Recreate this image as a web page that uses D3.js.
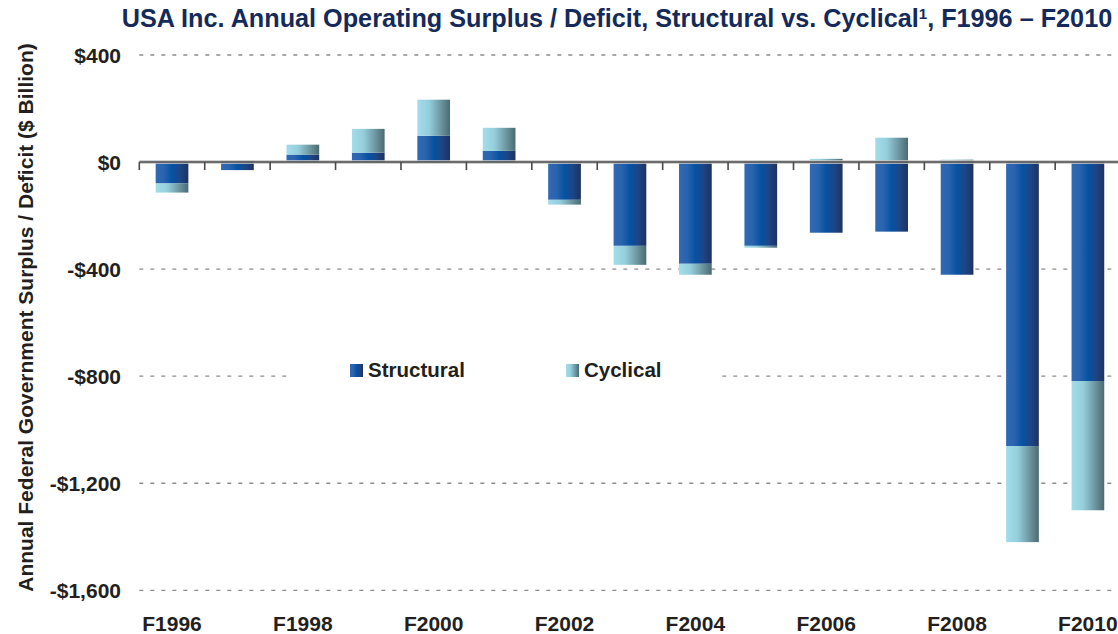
<!DOCTYPE html>
<html>
<head>
<meta charset="utf-8">
<script src="https://cdn.jsdelivr.net/npm/d3@7"></script>
<style>
  html, body { margin: 0; padding: 0; background: #fff; }
  svg { display: block; font-family: "Liberation Sans", Arial, sans-serif; }
</style>
</head>
<body>
<svg id="chart" width="1118" height="634"></svg>
<script>
// ---- data ----
const years = ["F1996","F1997","F1998","F1999","F2000","F2001","F2002","F2003","F2004","F2005","F2006","F2007","F2008","F2009","F2010"];
const structural = [-80, -30, 28, 35, 98, 42, -141, -313, -380, -313, -264, -260, -421, -1061, -818];
const cyclical   = [-34,   5, 37, 89, 135, 86, -18, -71, -41, -7, 12, 91, 9, -359, -483];
const seriesNames = ["Structural", "Cyclical"];
const yTicks = [400, 0, -400, -800, -1200, -1600];
const xLabels = ["F1996","F1998","F2000","F2002","F2004","F2006","F2008","F2010"];
const titleText = "USA Inc. Annual Operating Surplus / Deficit, Structural vs. Cyclical";
const titleTail = ", F1996 \u2013 F2010";
const yTitle = "Annual Federal Government Surplus / Deficit ($ Billion)";

// ---- layout ----
const svg = d3.select("#chart");
const plotLeft = 139.3, plotRight = 1120.6, yTop = 55, yBottom = 590.3;

const x = d3.scaleBand().domain(years).range([plotLeft, plotRight]).paddingInner(0.5).paddingOuter(0.25);
const y = d3.scaleLinear().domain([-1600, 400]).range([yBottom, yTop]);

const table = years.map((yr, i) => ({ year: yr, Structural: structural[i], Cyclical: cyclical[i] }));
const stacked = d3.stack().keys(seriesNames).offset(d3.stackOffsetDiverging)(table);

// gradients
const defs = svg.append("defs");
function grad(id, stops) {
  const g = defs.append("linearGradient").attr("id", id).attr("x1", "0%").attr("x2", "100%").attr("y1", "0%").attr("y2", "0%");
  stops.forEach(s => g.append("stop").attr("offset", s[0]).attr("stop-color", s[1]));
}
grad("gStruct", [["0%", "#2f6ab4"], ["25%", "#2a63ae"], ["50%", "#0652a2"], ["75%", "#1d4585"], ["100%", "#1e3260"]]);
grad("gCyc", [["0%", "#a3dcea"], ["35%", "#95cfdc"], ["70%", "#6e99a4"], ["100%", "#4b6a72"]]);
const fills = { Structural: "url(#gStruct)", Cyclical: "url(#gCyc)" };

// title
const title = svg.append("text")
  .attr("x", 617).attr("y", 27)
  .attr("text-anchor", "middle")
  .attr("font-weight", "bold").attr("font-size", 21)
  .attr("fill", "#142a5a");
title.append("tspan").text(titleText);
title.append("tspan").attr("font-size", 13).attr("dy", -8).text("1");
title.append("tspan").attr("dy", 8).text(titleTail);
const tl = title.node().getComputedTextLength();
const fs = 21 * 991 / tl;
title.attr("font-size", fs);
title.select("tspan:nth-child(2)").attr("font-size", fs * 0.6);

// gridlines
svg.append("g").selectAll("line").data(yTicks.filter(v => v !== 0)).join("line")
  .attr("x1", plotLeft).attr("x2", 1118)
  .attr("y1", d => y(d)).attr("y2", d => y(d))
  .attr("stroke", "#8c8c8c").attr("stroke-width", 1.3).attr("stroke-dasharray", "4,7");

// y tick labels
const fmt = d3.format(",");
svg.append("g").selectAll("text").data(yTicks).join("text")
  .attr("x", 121).attr("y", d => y(d))
  .attr("dy", "0.36em")
  .attr("text-anchor", "end")
  .attr("font-weight", "bold").attr("font-size", 21)
  .attr("fill", "#231f20")
  .text(d => (d < 0 ? "-$" : "$") + fmt(Math.abs(d)));

// y axis title
svg.append("text")
  .attr("transform", `translate(33,317.5) rotate(-90)`)
  .attr("text-anchor", "middle")
  .attr("font-weight", "bold").attr("font-size", 21)
  .attr("fill", "#231f20")
  .text(yTitle);

// legend (white box hides gridline)
const lg = svg.append("g");
lg.append("rect").attr("x", 292).attr("y", 345).attr("width", 426).attr("height", 50).attr("fill", "#fff");
const legendPos = [{ name: "Structural", x: 350 }, { name: "Cyclical", x: 566 }];
legendPos.forEach(l => {
  lg.append("rect").attr("x", l.x).attr("y", 364).attr("width", 13).attr("height", 13).attr("fill", fills[l.name]);
  lg.append("text").attr("x", l.x + 18).attr("y", 377)
    .attr("font-weight", "bold").attr("font-size", 20.5).attr("fill", "#231f20").text(l.name);
});

// bars
svg.append("g").selectAll("g").data(stacked).join("g")
  .attr("fill", d => fills[d.key])
  .selectAll("rect").data(d => d).join("rect")
  .attr("x", d => x(d.data.year))
  .attr("width", x.bandwidth())
  .attr("y", d => y(Math.max(d[0], d[1])))
  .attr("height", d => Math.abs(y(d[0]) - y(d[1])));

// zero axis
const step = x.step();
const off = (step - x.bandwidth()) / 2;
svg.append("line").attr("x1", plotLeft).attr("x2", 1118).attr("y1", y(0)).attr("y2", y(0))
  .attr("stroke", "#c8c8c8").attr("stroke-width", 4).attr("opacity", 0.8);
svg.append("line").attr("x1", plotLeft).attr("x2", 1118).attr("y1", y(0)).attr("y2", y(0))
  .attr("stroke", "#4a4a4a").attr("stroke-width", 1.6);
svg.append("g").selectAll("line").data(years).join("line")
  .attr("x1", d => x(d) - off).attr("x2", d => x(d) - off)
  .attr("y1", y(0)).attr("y2", y(0) + 8)
  .attr("stroke", "#4a4a4a").attr("stroke-width", 1.6);

// x labels
svg.append("g").selectAll("text").data(xLabels).join("text")
  .attr("x", d => x(d) + x.bandwidth() / 2)
  .attr("y", 631)
  .attr("text-anchor", "middle")
  .attr("font-weight", "bold").attr("font-size", 21)
  .attr("fill", "#231f20")
  .text(d => d);
</script>
</body>
</html>
